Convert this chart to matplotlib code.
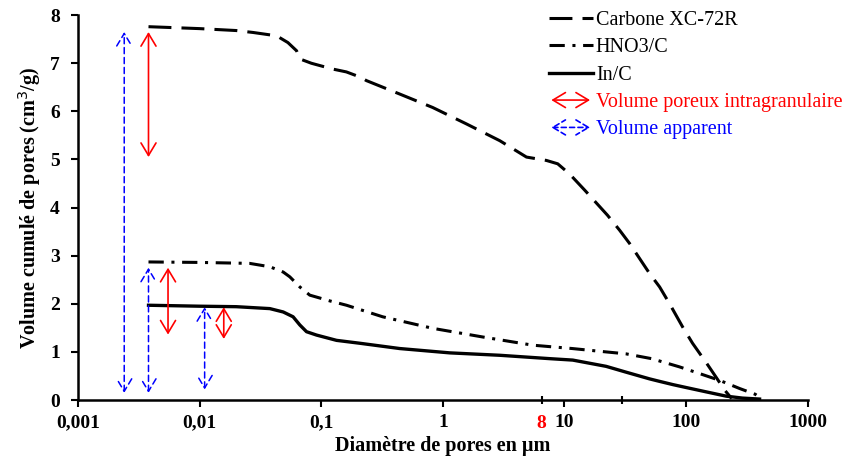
import numpy as np
import matplotlib
matplotlib.use('Agg')
import matplotlib.pyplot as plt
from matplotlib.patches import FancyArrowPatch
from matplotlib.legend_handler import HandlerPatch

plt.rcParams['font.family'] = ['Liberation Serif', 'DejaVu Serif']

# Carbone XC-72R
d_carbone = [0.0038, 0.01, 0.02, 0.0275, 0.043, 0.0532, 0.0627, 0.0667, 0.083, 0.124, 0.161,
             0.21, 0.235, 0.442, 0.826, 1.56, 2.94, 4.87, 7.1, 8.8, 11.0, 14.7, 22.6, 28.4, 34.4,
             41.5, 50.1, 60.6, 73.2, 93.6, 113, 147, 178, 207, 237]
v_carbone = [7.76, 7.72, 7.68, 7.64, 7.57, 7.43, 7.26, 7.09, 7.0, 6.88, 6.82,
             6.71, 6.64, 6.36, 6.08, 5.74, 5.39, 5.05, 4.98, 4.91, 4.7, 4.36, 3.84, 3.53, 3.25,
             2.94, 2.63, 2.35, 2.0, 1.52, 1.18, 0.77, 0.46, 0.21, 0.03]

# HNO3/C
d_hno3 = [0.0038, 0.01, 0.0258, 0.0378, 0.0487, 0.0552, 0.0667, 0.0805, 0.1177, 0.1614,
          0.32, 0.826, 2.13, 5.48, 11.6, 22, 32, 52, 88, 129, 188, 275, 370, 420]
v_hno3 = [2.87, 2.86, 2.84, 2.77, 2.66, 2.56, 2.35, 2.18, 2.06, 1.97,
          1.73, 1.49, 1.31, 1.14, 1.07, 1.0, 0.96, 0.86, 0.69, 0.55, 0.41, 0.24, 0.12, 0.02]

# In/C
d_inc = [0.0038, 0.01, 0.02, 0.0378, 0.0487, 0.0587, 0.0667, 0.0757, 0.0915, 0.1337, 0.2075,
         0.442, 1.14, 2.94, 7.55, 11.7, 22, 32, 50, 60, 78, 100, 146, 214, 291, 402]
v_inc = [1.97, 1.95, 1.94, 1.90, 1.83, 1.73, 1.56, 1.42, 1.35, 1.24, 1.18,
         1.07, 0.98, 0.93, 0.86, 0.83, 0.70, 0.58, 0.44, 0.39, 0.32, 0.26, 0.17, 0.08, 0.04, 0.02]

# fleches (x, y bas, y haut)
red_x = [0.0038, 0.0055, 0.0158]
red_lo = [5.05, 1.36, 1.27]
red_hi = [7.65, 2.75, 1.93]
blue_x = [0.0024, 0.0038, 0.011]
blue_lo = [0.15, 0.15, 0.22]
blue_hi = [7.65, 2.75, 1.93]

xticks = [0.001, 0.01, 0.1, 1, 10, 100, 1000]
xticklabels = ['0,001', '0,01', '0,1', '1', '10', '100', '1000']


class HandlerArrow(HandlerPatch):
    def create_artists(self, legend, orig_handle, xdescent, ydescent, width, height, fontsize, trans):
        p = FancyArrowPatch((-xdescent, height / 2 - ydescent), (width - xdescent, height / 2 - ydescent),
                            arrowstyle='<->,head_length=0.5,head_width=0.3', mutation_scale=18,
                            color=orig_handle.get_edgecolor(), linestyle=orig_handle.get_linestyle(),
                            lw=orig_handle.get_linewidth())
        p.set_transform(trans)
        return [p]


fig = plt.figure(figsize=(8.44, 4.59), dpi=100)
ax = fig.add_axes([0.0924, 0.1285, 0.8646, 0.8385])

ax.plot(d_carbone, v_carbone, color='black', lw=2.2, linestyle=(0, (7.5, 3.3)), label='Carbone XC-72R')
ax.plot(d_hno3, v_hno3, color='black', lw=2.2, linestyle=(0, (5, 2.5, 1, 2.5)), label='HNO3/C')
ax.plot(d_inc, v_inc, color='black', lw=2.4, label='In/C')

for x, lo, hi in zip(red_x, red_lo, red_hi):
    ax.annotate('', xy=(x, hi), xytext=(x, lo),
                arrowprops=dict(arrowstyle='<->,head_length=0.5,head_width=0.3', mutation_scale=18,
                                color='red', lw=1.2, shrinkA=0, shrinkB=0))
for x, lo, hi in zip(blue_x, blue_lo, blue_hi):
    ax.annotate('', xy=(x, hi), xytext=(x, lo),
                arrowprops=dict(arrowstyle='<->,head_length=0.5,head_width=0.3', mutation_scale=18,
                                color='blue', lw=1.1, linestyle=(0, (4, 2.5)), shrinkA=0, shrinkB=0))

ax.set_xscale('log')
ax.set_xlim(0.001, 1000)
ax.set_ylim(0, 8)
ax.set_xticks(xticks, labels=xticklabels)
ax.set_xticks([6.5, 30], labels=['8', ''], minor=True)
ax.xaxis.get_minorticklabels()[0].set_color('red')
ax.set_yticks(range(0, 9))
ax.tick_params(axis='both', which='major', labelsize=14, width=1.5, length=5)
ax.tick_params(axis='y', which='major', pad=8)
ax.tick_params(axis='x', which='major', pad=5)
ax.tick_params(axis='x', which='minor', direction='inout', labelsize=14, width=1.5, length=6, pad=8)
for lab in ax.get_xticklabels() + ax.get_yticklabels() + ax.get_xticklabels(minor=True):
    lab.set_fontweight('bold')

ax.spines['top'].set_visible(False)
ax.spines['right'].set_visible(False)
ax.spines['left'].set_linewidth(1.8)
ax.spines['bottom'].set_linewidth(1.8)

ax.set_xlabel('Diamètre de pores en µm', fontsize=14.5, fontweight='bold', labelpad=3)
ax.set_ylabel('Volume cumulé de pores (cm$^3$/g)', fontsize=14.5, fontweight='bold', labelpad=5)

red_proxy = FancyArrowPatch((0, 0), (1, 1), color='red', lw=1.2, linestyle='-')
blue_proxy = FancyArrowPatch((0, 0), (1, 1), color='blue', lw=1.2, linestyle=(0, (3, 2)))
handles, labels = ax.get_legend_handles_labels()
handles += [red_proxy, blue_proxy]
labels += ['Volume poreux intragranulaire', 'Volume apparent']
ax.legend(handles, labels, loc='upper left', bbox_to_anchor=(0.62, 1.058), frameon=False,
          fontsize=14.5, handlelength=2.2, handletextpad=0.15, labelspacing=0.41,
          labelcolor=['black', 'black', 'black', 'red', 'blue'],
          handler_map={FancyArrowPatch: HandlerArrow()})

fig.savefig('out.png', dpi=100)
